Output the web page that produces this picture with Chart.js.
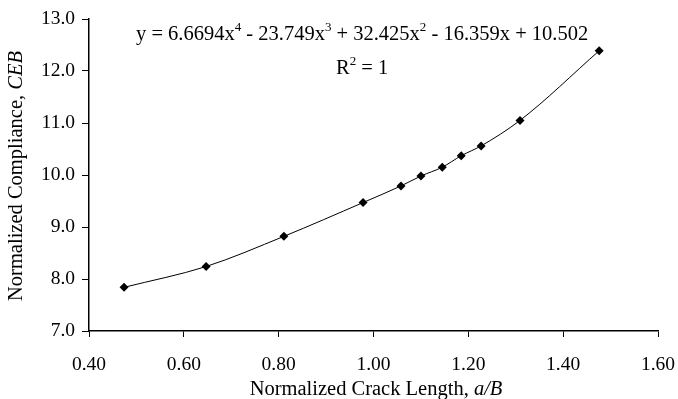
<!DOCTYPE html>
<html lang="en">
  <head>
    <meta charset="UTF-8" />
    <title>Normalized Compliance</title>
    <style>
      * {
        margin: 0;
        padding: 0;
      }
      body {
        background: white;
      }
      .chartBox {
        width: 678px;
        height: 399px;
      }
    </style>
  </head>
  <body>
    <div class="chartBox">
      <canvas id="myChart"></canvas>
    </div>

    <script src="https://cdn.jsdelivr.net/npm/chart.js"></script>

    <script>
      // data block
      const crackLength = [0.474, 0.647, 0.811, 0.978, 1.058, 1.1, 1.145, 1.185, 1.227, 1.309, 1.476];
      const compliance = [7.84, 8.24, 8.82, 9.47, 9.79, 9.98, 10.15, 10.37, 10.56, 11.05, 12.39];
      const xTicks = [0.4, 0.6, 0.8, 1.0, 1.2, 1.4, 1.6];
      const yTicks = [7, 8, 9, 10, 11, 12, 13];

      const serif = "'Liberation Serif', 'Times New Roman', serif";

      const points = crackLength.map((x, i) => ({ x, y: compliance[i] }));

      // draws a run of text pieces, some as superscripts or italic
      function drawPieces(ctx, pieces, x, y, size) {
        let cx = x;
        pieces.forEach((p) => {
          const s = p.sup ? Math.round(size * 0.62) : size;
          ctx.font = (p.italic ? "italic " : "") + s + "px " + serif;
          ctx.fillText(p.t, cx, p.sup ? y - size * 0.42 : y);
          cx += ctx.measureText(p.t).width;
        });
        return cx - x;
      }

      function piecesWidth(ctx, pieces, size) {
        let w = 0;
        pieces.forEach((p) => {
          const s = p.sup ? Math.round(size * 0.62) : size;
          ctx.font = (p.italic ? "italic " : "") + s + "px " + serif;
          w += ctx.measureText(p.t).width;
        });
        return w;
      }

      // text plugin: equation, R², axis titles
      const chartTexts = {
        id: "chartTexts",
        afterDraw(chart) {
          const { ctx } = chart;
          ctx.save();
          ctx.fillStyle = "#000";
          ctx.textBaseline = "alphabetic";
          ctx.textAlign = "left";

          const eq = [
            { t: "y = 6.6694x" }, { t: "4", sup: true },
            { t: " - 23.749x" }, { t: "3", sup: true },
            { t: " + 32.425x" }, { t: "2", sup: true },
            { t: " - 16.359x + 10.502" }
          ];
          drawPieces(ctx, eq, 136, 40, 20.5);

          const r2 = [{ t: "R" }, { t: "2", sup: true }, { t: " = 1" }];
          drawPieces(ctx, r2, 336, 74, 20.5);

          // x title
          const xt = [{ t: "Normalized Crack Length, " }, { t: "a/B", italic: true }];
          const xw = piecesWidth(ctx, xt, 20.5);
          drawPieces(ctx, xt, 376 - xw / 2, 395, 20.5);

          // y title
          const yt = [{ t: "Normalized Compliance, " }, { t: "CEB", italic: true }];
          const yw = piecesWidth(ctx, yt, 20.5);
          ctx.translate(22, 176);
          ctx.rotate(-Math.PI / 2);
          drawPieces(ctx, yt, -yw / 2, 0, 20.5);

          ctx.restore();
        }
      };

      // config block
      const config = {
        type: "scatter",
        data: {
          datasets: [
            {
              data: points,
              showLine: true,
              borderColor: "#000",
              borderWidth: 1,
              cubicInterpolationMode: "monotone",
              pointStyle: "rectRot",
              pointRadius: 4.5,
              pointBackgroundColor: "#000",
              pointBorderColor: "#000",
              pointBorderWidth: 0
            }
          ]
        },
        options: {
          responsive: true,
          maintainAspectRatio: false,
          animation: false,
          layout: { padding: { left: 0, top: 19, right: 20, bottom: 0 } },
          plugins: {
            legend: { display: false },
            tooltip: { enabled: false }
          },
          scales: {
            x: {
              type: "linear",
              min: xTicks[0],
              max: xTicks[xTicks.length - 1],
              afterBuildTicks: (scale) => {
                scale.ticks = xTicks.map((v) => ({ value: v }));
              },
              afterFit: (scale) => {
                scale.height = 68;
                scale.paddingLeft = 0;
                scale.paddingRight = 0;
              },
              ticks: {
                padding: 16,
                color: "#000",
                font: { family: serif, size: 19.5 },
                callback: (v) => Number(v).toFixed(2)
              },
              grid: {
                drawOnChartArea: false,
                drawTicks: true,
                tickLength: 6,
                color: "#000"
              },
              border: { color: "#000", width: 1.5 }
            },
            y: {
              type: "linear",
              min: yTicks[0],
              max: yTicks[yTicks.length - 1],
              afterBuildTicks: (scale) => {
                scale.ticks = yTicks.map((v) => ({ value: v }));
              },
              afterFit: (scale) => {
                scale.width = 89;
                scale.paddingTop = 0;
                scale.paddingBottom = 0;
              },
              ticks: {
                padding: 7,
                color: "#000",
                font: { family: serif, size: 19.5 },
                callback: (v) => Number(v).toFixed(1)
              },
              grid: {
                drawOnChartArea: false,
                drawTicks: true,
                tickLength: 7,
                color: "#000"
              },
              border: { color: "#000", width: 1.5 }
            }
          }
        },
        plugins: [chartTexts]
      };

      // init render block
      const myChart = new Chart(document.getElementById("myChart"), config);
    </script>
  </body>
</html>
